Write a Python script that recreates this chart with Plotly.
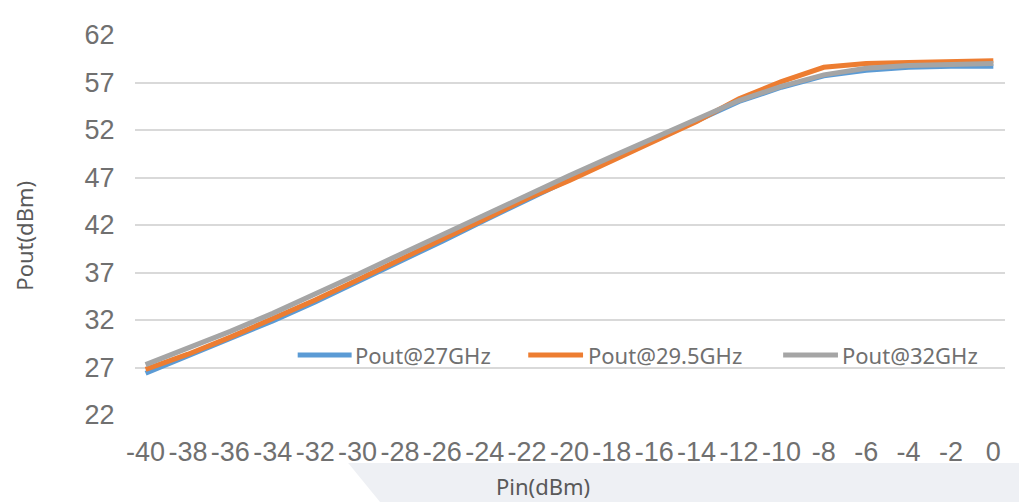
import plotly.graph_objects as go

pin = list(range(-40, 1, 2))
pout_27 = [26.4, 28.2, 30.0, 31.9, 33.9, 36.0, 38.2, 40.3, 42.5, 44.7, 46.8,
           48.9, 50.9, 52.9, 55.0, 56.5, 57.7, 58.3, 58.6, 58.7, 58.7]
pout_295 = [26.8, 28.4, 30.2, 32.1, 34.1, 36.2, 38.4, 40.5, 42.6, 44.8, 46.7,
            48.8, 50.9, 52.9, 55.3, 57.1, 58.6, 59.0, 59.1, 59.2, 59.3]
pout_32 = [27.3, 29.0, 30.8, 32.7, 34.7, 36.8, 38.9, 41.0, 43.1, 45.2, 47.2,
           49.2, 51.2, 53.1, 55.1, 56.6, 57.8, 58.5, 58.8, 58.9, 59.0]
names = ["Pout@27GHz", "Pout@29.5GHz", "Pout@32GHz"]
colors = ["#5B9BD5", "#ED7D31", "#A5A5A5"]
y_ticks = list(range(22, 63, 5))

fig = go.Figure()
for ys, n, c in zip([pout_27, pout_295, pout_32], names, colors):
    fig.add_trace(go.Scatter(x=pin, y=ys, name=n, mode="lines",
                             line=dict(color=c, width=5), showlegend=False))

tick_font = dict(family="Liberation Sans Narrow, Arial Narrow, Liberation Sans, sans-serif",
                 size=27, color="#707070")
title_font = dict(family="Noto Sans", size=22, color="#595959")

shapes = [
    # light background patch seen below the chart in the original
    dict(type="path", xref="paper", yref="paper",
         path="M 0.245 -0.126 L 0.282 -0.23 L 1.03 -0.23 L 1.03 -0.126 Z",
         fillcolor="#eef0f4", line=dict(width=0), layer="below"),
]
annotations = [
    dict(text="Pin(dBm)", xref="paper", yref="paper", x=0.469, y=-0.187,
         showarrow=False, font=title_font, xanchor="center", yanchor="middle"),
    dict(text="Pout(dBm)", xref="paper", yref="paper", x=-0.128, y=0.471,
         showarrow=False, font=title_font, textangle=-90, xanchor="center", yanchor="middle"),
]
# legend drawn manually to match the original's long line samples
leg_line_x = [(0.187, 0.249), (0.452, 0.515), (0.745, 0.808)]
leg_text_x = [0.251, 0.518, 0.810]
leg_y = 0.158
for (x0, x1), tx, n, c in zip(leg_line_x, leg_text_x, names, colors):
    shapes.append(dict(type="line", xref="paper", yref="paper", x0=x0, x1=x1, y0=leg_y, y1=leg_y,
                       line=dict(color=c, width=5)))
    annotations.append(dict(text=n, xref="paper", yref="paper", x=tx, y=leg_y, showarrow=False,
                            xanchor="left", yanchor="middle",
                            font=dict(family="Noto Sans", size=22, color="#707070")))

# page body has an 8px margin; size the figure so it fits the 1027x502 window
fig.update_layout(
    width=1019, height=494,
    margin=dict(l=127, r=22, t=27, b=87),
    paper_bgcolor="white", plot_bgcolor="white",
    showlegend=False,
    xaxis=dict(range=[-40.5, 0.55], tickvals=pin, ticktext=[str(p) for p in pin],
               showgrid=False, zeroline=False, showline=False,
               ticks="outside", ticklen=13, tickcolor="rgba(0,0,0,0)",
               tickfont=tick_font, automargin=False),
    yaxis=dict(range=[22, 62], tickvals=y_ticks, showgrid=True, gridcolor="#d9d9d9",
               gridwidth=2, zeroline=False, showline=False,
               ticks="outside", ticklen=14, tickcolor="rgba(0,0,0,0)",
               tickfont=tick_font, automargin=False),
    shapes=shapes,
    annotations=annotations,
)
fig.write_html("out.html")
